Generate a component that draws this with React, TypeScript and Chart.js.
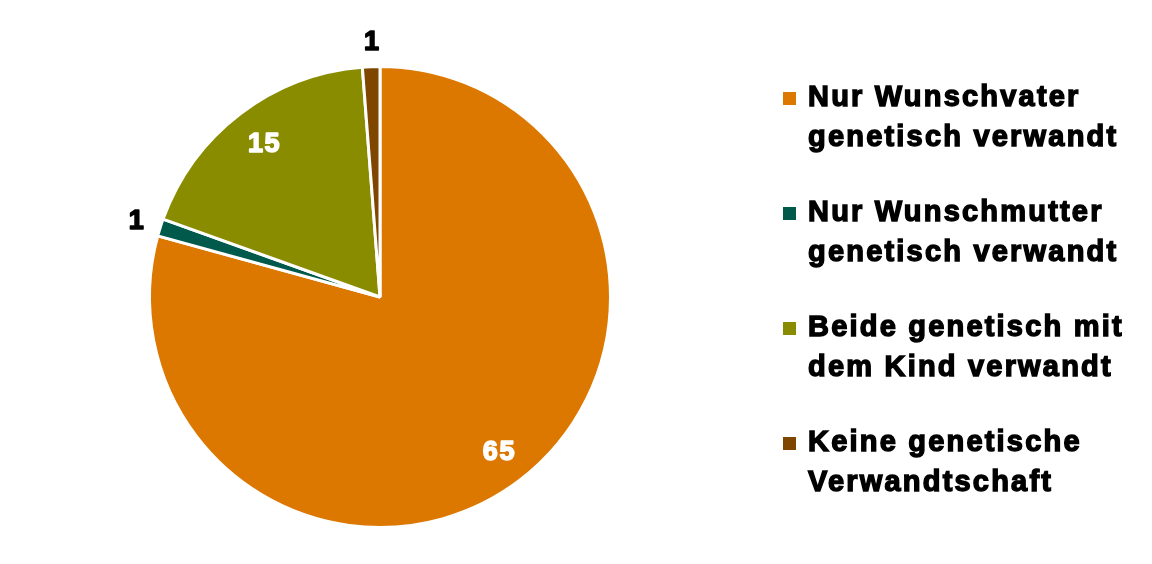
import React, { useEffect, useRef } from "react";
import { Chart, registerables } from "chart.js";

Chart.register(...registerables);

const categories = [
  "Nur Wunschvater\ngenetisch verwandt",
  "Nur Wunschmutter\ngenetisch verwandt",
  "Beide genetisch mit\ndem Kind verwandt",
  "Keine genetische\nVerwandtschaft",
];
const values = [65, 1, 15, 1];
const colors = ["#DC7800", "#005A4B", "#8A8C00", "#7F4600"];
const labelInside = [true, false, true, false];

const FONT = '"Liberation Sans", Arial, sans-serif';

const labelPlugin = {
  id: "sliceLabels",
  afterDatasetsDraw(chart: any) {
    const ctx = chart.ctx;
    const meta = chart.getDatasetMeta(0);
    ctx.save();
    ctx.font = `bold 27px ${FONT}`;
    try {
      (ctx as any).letterSpacing = "1.5px";
    } catch (e) {}
    ctx.textAlign = "center";
    ctx.textBaseline = "middle";
    ctx.lineJoin = "round";
    meta.data.forEach((arc: any, i: number) => {
      const { x, y, startAngle, endAngle, outerRadius } = arc.getProps(
        ["x", "y", "startAngle", "endAngle", "outerRadius"],
        true
      );
      const mid = (startAngle + endAngle) / 2;
      const f = labelInside[i] ? 0.84 : 1.115;
      const px = x + Math.cos(mid) * outerRadius * f + 2;
      const py = y + Math.sin(mid) * outerRadius * f + 2;
      ctx.fillStyle = labelInside[i] ? "#FFFFFF" : "#000000";
      ctx.strokeStyle = ctx.fillStyle;
      ctx.lineWidth = 1.6;
      const t = String(values[i]);
      ctx.fillText(t, px, py);
      ctx.strokeText(t, px, py);
    });
    ctx.restore();
  },
};

export default function App() {
  const ref = useRef<HTMLCanvasElement | null>(null);

  useEffect(() => {
    const prevMargin = document.body.style.margin;
    document.body.style.margin = "0";
    if (!ref.current) return;
    const chart = new Chart(ref.current, {
      type: "pie",
      data: {
        labels: categories,
        datasets: [
          {
            data: values,
            backgroundColor: colors,
            borderColor: "#FFFFFF",
            borderWidth: 3,
          },
        ],
      },
      options: {
        responsive: false,
        animation: false,
        layout: { padding: { left: 148, right: 540, top: 65, bottom: 35 } },
        plugins: {
          legend: { display: false },
          tooltip: { enabled: false },
        },
      },
      plugins: [labelPlugin],
    });
    return () => {
      chart.destroy();
      document.body.style.margin = prevMargin;
    };
  }, []);

  return (
    <div
      style={{
        position: "fixed",
        left: 0,
        top: 0,
        width: 1152,
        height: 564,
        background: "#FFFFFF",
      }}
    >
      <canvas ref={ref} width={1152} height={564} style={{ display: "block" }} />
      {categories.map((c, i) => (
        <div key={i}>
          <div
            style={{
              position: "absolute",
              left: 783,
              top: 92 + i * 115,
              width: 13,
              height: 13,
              background: colors[i],
            }}
          />
          <div
            style={{
              position: "absolute",
              left: 808,
              top: 76 + i * 115,
              fontFamily: FONT,
              fontWeight: "bold",
              fontSize: 29,
              lineHeight: "40px",
              letterSpacing: "2.2px",
              whiteSpace: "pre-line",
              color: "#000000",
              WebkitTextStroke: "1.4px #000000",
            }}
          >
            {c}
          </div>
        </div>
      ))}
    </div>
  );
}
